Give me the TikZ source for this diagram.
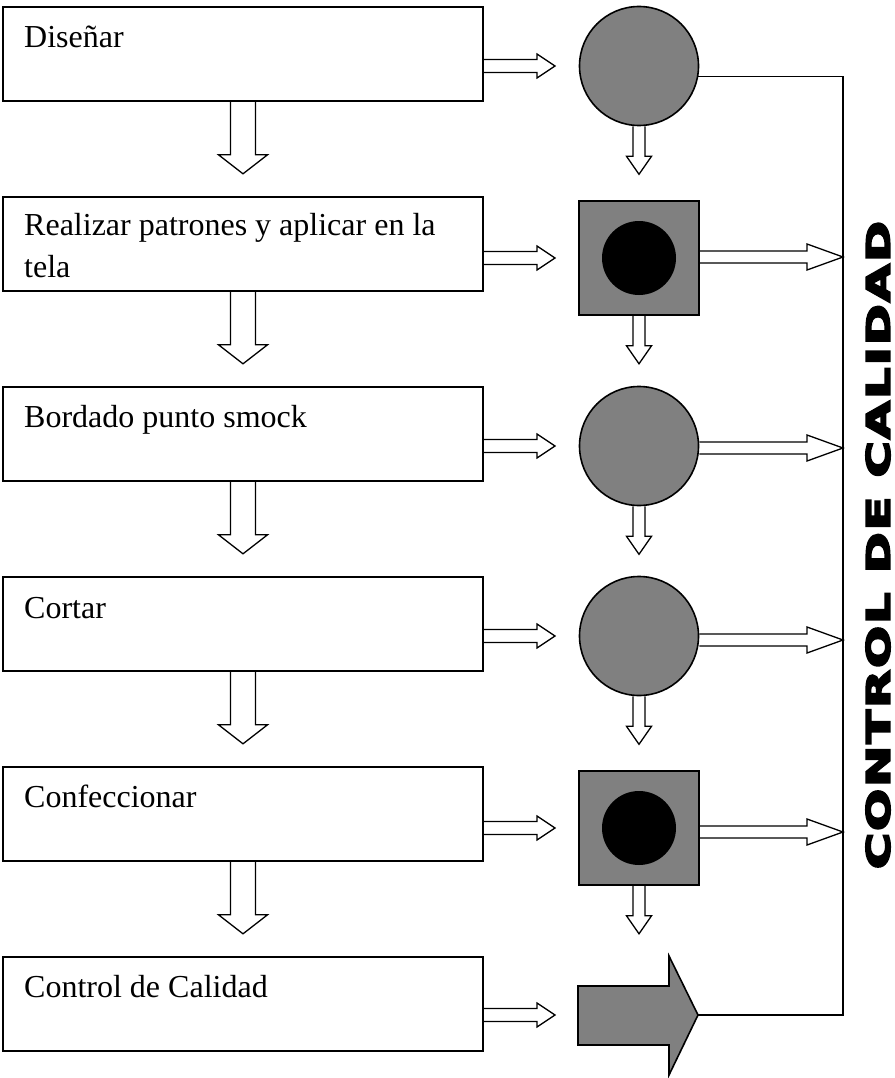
\documentclass[tikz,border=0pt]{standalone}
\usepackage{fontspec}
\setmainfont{Liberation Serif}
\newfontfamily\heavyfont{DejaVu Sans}[UprightFont={* Bold},FakeBold=5,LetterSpace=4]
\usetikzlibrary{calc}
\definecolor{gr}{HTML}{808080}
\pgfdeclarelayer{bg}
\pgfsetlayers{bg,main}
\tikzset{
  procbox/.style={draw, line width=1.6pt, fill=white, minimum width=480pt, minimum height=94pt, inner sep=0pt},
  proctext/.style={anchor=base west, inner sep=0pt, font=\fontsize{32}{42}\selectfont},
  opcircle/.style={circle, draw, line width=1.6pt, fill=gr, minimum size=119pt, inner sep=0pt},
  inspbox/.style={draw, line width=1.6pt, fill=gr, minimum width=120pt, minimum height=114pt, inner sep=0pt},
  blackdot/.style={circle, fill=black, minimum size=74pt, inner sep=0pt},
  blk/.style={draw, line width=1.3pt, fill=white, line join=miter},
  railline/.style={draw, line width=1.5pt},
  bigarrow/.style={draw, line width=1.6pt, fill=gr, line join=miter}
}
% horizontal block arrow: #1 start, #2 end point (x used), #3 shaft half, #4 head half, #5 head length
\newcommand\rightblock[5]{%
  \draw[blk] let \p1=(#1), \p2=(#2) in
    (\x1,\y1+#3) -- (\x2-#5,\y1+#3) -- (\x2-#5,\y1+#4) -- (\x2,\y1)
    -- (\x2-#5,\y1-#4) -- (\x2-#5,\y1-#3) -- (\x1,\y1-#3);}
% downward block arrow: #1 start, #2 length, #3 shaft half, #4 head half, #5 head length
\newcommand\downblock[5]{%
  \draw[blk] let \p1=(#1) in
    (\x1-#3,\y1) -- (\x1-#3,\y1-#2+#5) -- (\x1-#4,\y1-#2+#5) -- (\x1,\y1-#2)
    -- (\x1+#4,\y1-#2+#5) -- (\x1+#3,\y1-#2+#5) -- (\x1+#3,\y1);}
\begin{document}
\begin{tikzpicture}[x=1pt,y=-1pt]
\useasboundingbox (0,0) rectangle (894,1078);

% process boxes
\node[procbox] (b1) at (243,54) {};
\node[procbox] (b2) at (243,244) {};
\node[procbox] (b3) at (243,434) {};
\node[procbox] (b4) at (243,624) {};
\node[procbox] (b5) at (243,814) {};
\node[procbox] (b6) at (243,1004) {};

\node[proctext] (t1) at (24,48) {Diseñar};
\node[proctext] (t2) at (24,235) {\begin{tabular}[t]{@{}l@{}}Realizar patrones y aplicar en la\\tela\end{tabular}};
\node[proctext] (t3) at (24,427) {Bordado punto smock};
\node[proctext] (t4) at (24,618) {Cortar};
\node[proctext] (t5) at (24,807) {Confeccionar};
\node[proctext] (t6) at (24,997) {Control de Calidad};

% symbols
\node[opcircle] (c1) at (639,66) {};
\node[inspbox] (s2) at (639,258) {};
\node[blackdot] (d2) at (s2) {};
\node[opcircle] (c3) at (639,446) {};
\node[opcircle] (c4) at (639,636) {};
\node[inspbox] (s5) at (639,828) {};
\node[blackdot] (d5) at (s5) {};
\coordinate (a6) at (698,1015);
\draw[bigarrow] (578,986) -- (669,986) -- (669,956) -- (a6) -- (669,1075) -- (669,1045) -- (578,1045) -- cycle;

\coordinate (gapx) at (555,0);
\coordinate (rail) at (843,540);

\begin{pgfonlayer}{bg}
% box -> symbol arrows
\rightblock{b1.east |- c1.center}{gapx}{6.5pt}{12pt}{18pt}
\rightblock{b2.east |- s2.center}{gapx}{6.5pt}{12pt}{18pt}
\rightblock{b3.east |- c3.center}{gapx}{6.5pt}{12pt}{18pt}
\rightblock{b4.east |- c4.center}{gapx}{6.5pt}{12pt}{18pt}
\rightblock{b5.east |- s5.center}{gapx}{6.5pt}{12pt}{18pt}
\rightblock{b6.east |- a6}{gapx}{6.5pt}{12pt}{18pt}
% left down arrows
\downblock{b1.south}{72pt}{12.5pt}{24.5pt}{19pt}
\downblock{b2.south}{72pt}{12.5pt}{24.5pt}{19pt}
\downblock{b3.south}{72pt}{12.5pt}{24.5pt}{19pt}
\downblock{b4.south}{72pt}{12.5pt}{24.5pt}{19pt}
\downblock{b5.south}{72pt}{12.5pt}{24.5pt}{19pt}
% right down arrows
\downblock{c1.south}{48pt}{6pt}{12.5pt}{18pt}
\downblock{s2.south}{48pt}{6pt}{12.5pt}{18pt}
\downblock{c3.south}{48pt}{6pt}{12.5pt}{18pt}
\downblock{c4.south}{48pt}{6pt}{12.5pt}{18pt}
\downblock{s5.south}{48pt}{6pt}{12.5pt}{18pt}
% symbol -> rail arrows
\rightblock{$(s2.east)+(0,-1)$}{rail}{6pt}{13pt}{36pt}
\rightblock{$(c3.east)+(0,2)$}{rail}{6pt}{13pt}{36pt}
\rightblock{$(c4.east)+(0,4)$}{rail}{6pt}{13pt}{36pt}
\rightblock{$(s5.east)+(0,4)$}{rail}{6pt}{13pt}{36pt}
% rail
\draw[railline] (c1.-10.6) -| (rail |- a6) -- (a6);
\end{pgfonlayer}

% vertical title
\node[rotate=90, inner sep=0pt] (vt) at (878,545) {\resizebox{648pt}{24pt}{\heavyfont CONTROL DE CALIDAD}};
\end{tikzpicture}
\end{document}
